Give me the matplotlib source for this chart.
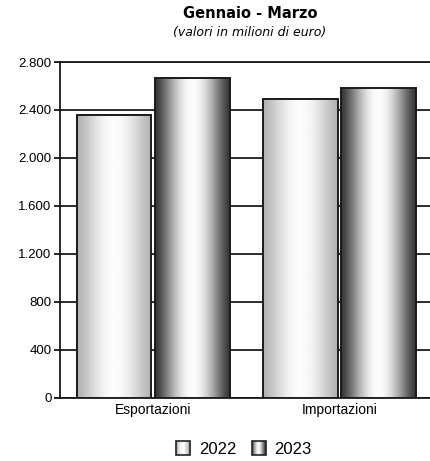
import numpy as np
import matplotlib
matplotlib.use("Agg")
import matplotlib.pyplot as plt
from matplotlib.patches import Rectangle
from matplotlib.legend_handler import HandlerBase
from matplotlib.ticker import FuncFormatter

categorie = ["Esportazioni", "Importazioni"]
anni = ["2022", "2023"]
valori_2022 = [2358, 2492]
valori_2023 = [2667, 2583]
y_ticks = [0, 400, 800, 1200, 1600, 2000, 2400, 2800]

# toni del gradiente: bordo -> centro
toni = {"2022": (0.70, 0.99), "2023": (0.22, 0.99)}


def profilo(bordo, centro, n=64):
    t = np.linspace(-1, 1, n)
    return bordo + (centro - bordo) * np.cos(t * np.pi / 2) ** 1.3


class HandlerGradiente(HandlerBase):
    def __init__(self, bordo, centro):
        super().__init__()
        self.bordo = bordo
        self.centro = centro

    def create_artists(self, legend, orig_handle, xdescent, ydescent,
                       width, height, fontsize, trans):
        lato = height * 1.2
        x0 = -xdescent + (width - lato) / 2
        y0 = -ydescent + (height - lato) / 2
        n = 16
        vals = profilo(self.bordo, self.centro, n)
        artisti = []
        for i, v in enumerate(vals):
            r = Rectangle((x0 + i * lato / n, y0), lato / n + 0.2, lato,
                          facecolor=str(v), edgecolor="none", transform=trans)
            artisti.append(r)
        artisti.append(Rectangle((x0, y0), lato, lato, facecolor="none",
                                 edgecolor="#222222", lw=1.2, transform=trans))
        return artisti


fig = plt.figure(figsize=(4.31, 4.61), dpi=100)
ax = fig.add_axes([0.139, 0.137, 0.865, 0.7285])

x = np.arange(len(categorie))
w = 0.40
off = 0.21

for serie, vals, dx in [("2022", valori_2022, -off), ("2023", valori_2023, off)]:
    bordo, centro = toni[serie]
    grad = profilo(bordo, centro)[np.newaxis, :]
    bars = ax.bar(x + dx, vals, width=w, facecolor="none",
                  edgecolor="#1a1a1a", lw=1.4, zorder=4)
    for b in bars:
        bx, by = b.get_x(), b.get_y()
        ax.imshow(grad, cmap="gray", vmin=0, vmax=1, aspect="auto",
                  extent=(bx, bx + b.get_width(), by, by + b.get_height()),
                  zorder=3, interpolation="bilinear")

ax.set_xlim(-0.5, 1.5)
ax.set_ylim(0, 2800)
ax.set_yticks(y_ticks)
ax.yaxis.set_major_formatter(FuncFormatter(lambda v, p: f"{int(v):,}".replace(",", ".")))
ax.set_xticks(x)
ax.set_xticklabels(categorie)
ax.tick_params(axis="x", length=0, pad=4, labelsize=10)
ax.tick_params(axis="y", length=4, width=1.2, pad=2, labelsize=9.5)
ax.grid(axis="y", color="#1a1a1a", lw=1.3, zorder=1)
ax.set_axisbelow(True)
ax.spines["right"].set_visible(False)
for s in ["left", "bottom", "top"]:
    ax.spines[s].set_linewidth(1.3)
    ax.spines[s].set_color("#1a1a1a")

fig.text(0.58, 0.971, "Gennaio - Marzo", ha="center", va="center",
         fontsize=10.5, fontweight="bold", family="DejaVu Sans")
fig.text(0.58, 0.929, "(valori in milioni di euro)", ha="center", va="center",
         fontsize=9, style="italic", family="DejaVu Sans")

h1 = Rectangle((0, 0), 1, 1)
h2 = Rectangle((0, 0), 1, 1)
fig.legend([h1, h2], anni, loc="center", bbox_to_anchor=(0.564, 0.026),
           ncol=2, frameon=False, handlelength=1.0,
           prop={"family": "Liberation Sans", "size": 12},
           handletextpad=0.45, columnspacing=0.85,
           handler_map={h1: HandlerGradiente(*toni["2022"]),
                        h2: HandlerGradiente(*toni["2023"])})

for lab in ax.get_xticklabels() + ax.get_yticklabels():
    lab.set_family("Liberation Sans")

fig.savefig("out.png", dpi=100)
